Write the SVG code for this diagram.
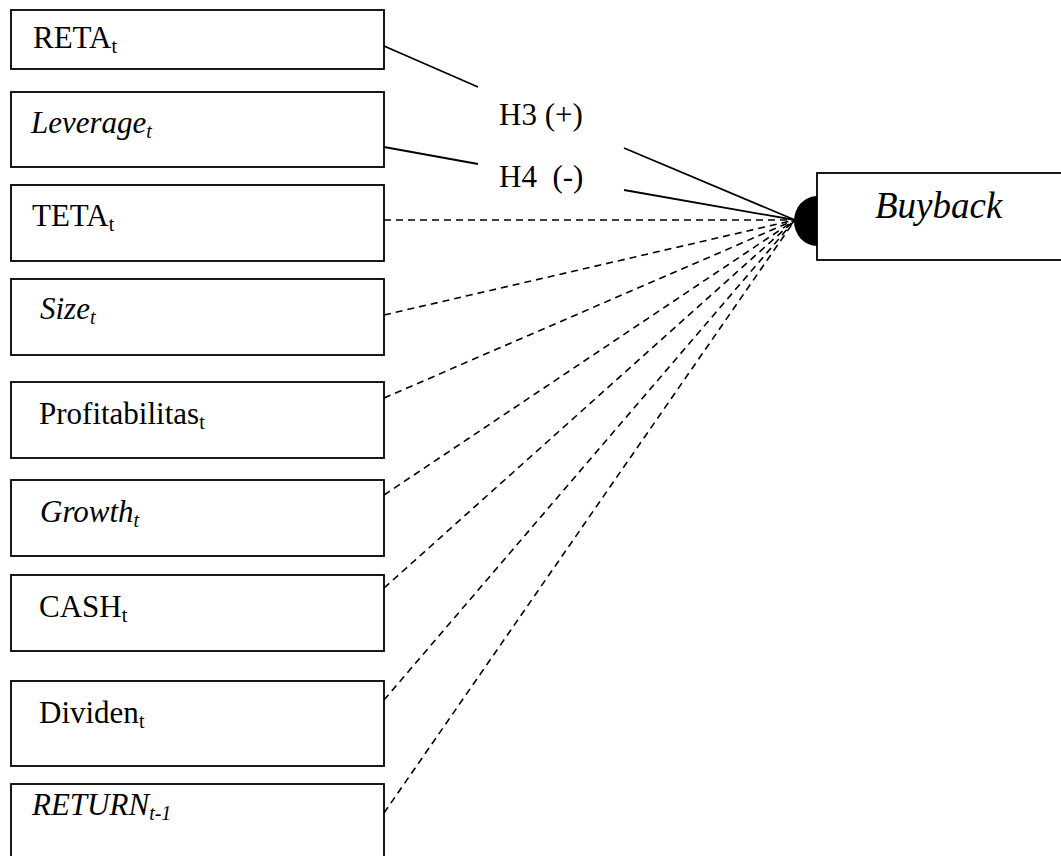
<svg xmlns="http://www.w3.org/2000/svg" width="1061" height="856" viewBox="0 0 1061 856">
<style>
.box{fill:#fff;stroke:#000;stroke-width:1.8}
.lbl{font-family:"Liberation Serif","Times New Roman",serif;font-size:31px;fill:#000}
.it{font-style:italic}
.sub{font-size:20px}
.solid{stroke:#000;stroke-width:1.8;fill:none}
.dash{stroke:#000;stroke-width:1.6;fill:none;stroke-dasharray:7 5}
</style>
<rect width="1061" height="856" fill="#fff"/>
<g id="connectors">
<line class="solid" x1="384" y1="46" x2="478" y2="87"/>
<line class="solid" x1="624" y1="148" x2="795" y2="220"/>
<line class="solid" x1="384" y1="147" x2="478" y2="164"/>
<line class="solid" x1="624" y1="190" x2="795" y2="220"/>
<line class="dash" x1="384" y1="220" x2="795" y2="220"/>
<line class="dash" x1="384" y1="315" x2="795" y2="220"/>
<line class="dash" x1="384" y1="398" x2="795" y2="220"/>
<line class="dash" x1="384" y1="495" x2="795" y2="220"/>
<line class="dash" x1="384" y1="588" x2="795" y2="220"/>
<line class="dash" x1="384" y1="700" x2="795" y2="220"/>
<line class="dash" x1="384" y1="813" x2="795" y2="220"/>
<text class="lbl" x="499" y="125">H3 (+)</text>
<text class="lbl" x="499" y="187" xml:space="preserve">H4  (-)</text>
</g>
<g id="node-reta">
<rect class="box" x="11" y="10" width="373" height="59"/>
<text class="lbl" x="33" y="48">RETA<tspan class="sub" dy="5">t</tspan></text>
</g>
<g id="node-leverage">
<rect class="box" x="11" y="92" width="373" height="75"/>
<text class="lbl it" x="31" y="133">Leverage<tspan class="sub" dy="5">t</tspan></text>
</g>
<g id="node-teta">
<rect class="box" x="11" y="185" width="373" height="76"/>
<text class="lbl" x="32" y="226">TETA<tspan class="sub" dy="5">t</tspan></text>
</g>
<g id="node-size">
<rect class="box" x="11" y="279" width="373" height="76"/>
<text class="lbl it" x="40" y="319">Size<tspan class="sub" dy="5">t</tspan></text>
</g>
<g id="node-profitabilitas">
<rect class="box" x="11" y="382" width="373" height="76"/>
<text class="lbl" x="39" y="424">Profitabilitas<tspan class="sub" dy="5">t</tspan></text>
</g>
<g id="node-growth">
<rect class="box" x="11" y="480" width="373" height="76"/>
<text class="lbl it" x="40" y="522">Growth<tspan class="sub" dy="5">t</tspan></text>
</g>
<g id="node-cash">
<rect class="box" x="11" y="575" width="373" height="76"/>
<text class="lbl" x="39" y="617">CASH<tspan class="sub" dy="5">t</tspan></text>
</g>
<g id="node-dividen">
<rect class="box" x="11" y="681" width="373" height="85"/>
<text class="lbl" x="39" y="723">Dividen<tspan class="sub" dy="5">t</tspan></text>
</g>
<g id="node-return">
<rect class="box" x="11" y="784" width="373" height="80"/>
<text class="lbl it" x="32" y="815">RETURN<tspan class="sub" dy="5">t-1</tspan></text>
</g>
<g id="node-buyback">
<path d="M817,196 A23,25 0 0 0 817,246 Z" fill="#000"/>
<rect class="box" x="817" y="173" width="250" height="87"/>
<text class="lbl it" x="875" y="218" style="font-size:37px">Buyback</text>
</g>
</svg>
